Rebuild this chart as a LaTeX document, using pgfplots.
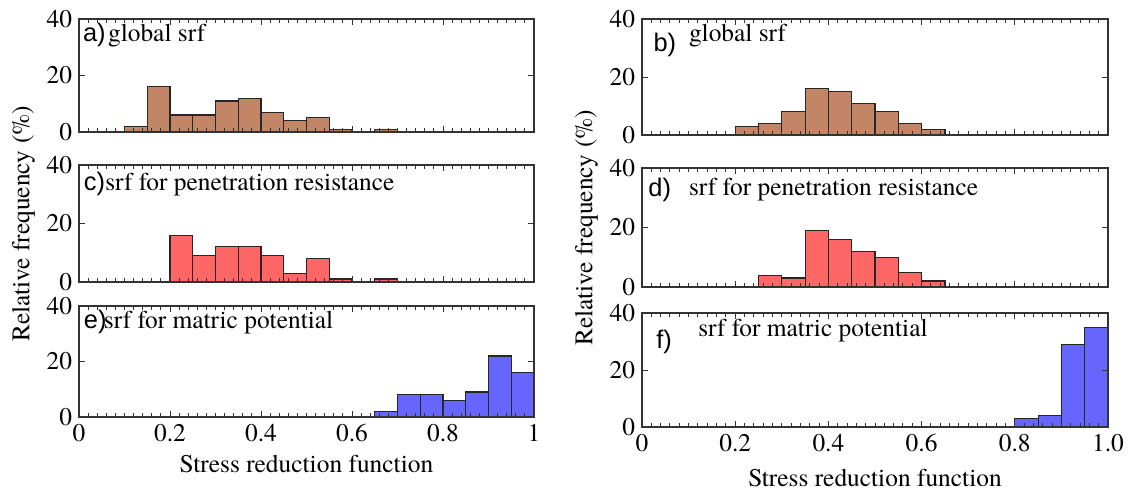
\documentclass[border=0pt]{standalone}
\usepackage{fontspec}
\setmainfont{texgyretermes}[Extension=.otf, UprightFont=*-regular,
  BoldFont=*-bold, ItalicFont=*-italic, BoldItalicFont=*-bolditalic]
\setsansfont{Liberation Sans}
\usepackage{pgfplots}
\pgfplotsset{compat=1.18}

\definecolor{brn}{RGB}{194,133,102}
\definecolor{rd}{RGB}{255,102,102}
\definecolor{bl}{RGB}{102,102,255}
\newcommand{\fs}{\fontsize{12.75}{15}\selectfont}

\pgfplotsset{
  panel/.style={
    scale only axis, anchor=north west,
    xmin=0, xmax=1, ymin=0, ymax=40,
    xtick={0,0.2,0.4,0.6,0.8,1}, ytick={0,20,40},
    yticklabels={0,20,40}, xticklabels={},
    minor x tick num=9,
    tick align=inside,
    major tick length=3bp, minor tick length=1.8bp,
    axis line style={black!80, line width=0.6pt},
    every tick/.style={black!80, line width=0.5pt},
    tick label style={font=\fs},
    label style={font=\fs},
    axis on top,
  },
  bars/.style={ybar interval, fill=#1, draw=black!85, line width=0.6pt},
}
\newcommand{\tag}[4]{%
  \node[anchor=base west, inner sep=0pt, font=\fs\sffamily] at (rel axis cs:#1) {#2};
  \node[anchor=base west, inner sep=0pt, font=\fs] at (rel axis cs:#3) {#4};}

\begin{document}
\begin{tikzpicture}
\useasboundingbox (0,0) rectangle (567.5bp,-247.5bp);

% left column
\begin{axis}[panel, at={(39.5bp,-9.5bp)}, width=227.5bp, height=56.5bp]
\addplot[bars=brn] coordinates {
  (0.10,2) (0.15,16) (0.20,6) (0.25,6) (0.30,11) (0.35,12) (0.40,7)
  (0.45,4) (0.50,5) (0.55,1) (0.60,0) (0.65,1) (0.70,0)};
\tag{0.008,0.80}{a)}{0.063,0.80}{global srf}
\end{axis}

\begin{axis}[panel, at={(39.5bp,-82.5bp)}, width=227.5bp, height=58.5bp,
  ylabel={Relative frequency (\%)}, ylabel style={yshift=-1bp}]
\addplot[bars=rd] coordinates {
  (0.20,16) (0.25,9) (0.30,12) (0.35,12) (0.40,9) (0.45,3) (0.50,8)
  (0.55,1) (0.60,0) (0.65,1) (0.70,0)};
\tag{0.01,0.78}{c)}{0.057,0.78}{srf for penetration resistance}
\end{axis}

\begin{axis}[panel, at={(39.5bp,-153bp)}, width=227.5bp, height=55.5bp,
  xticklabels={0,0.2,0.4,0.6,0.8,1},
  xlabel={Stress reduction function}]
\addplot[bars=bl] coordinates {
  (0.65,2) (0.70,8) (0.75,8) (0.80,6) (0.85,9) (0.90,22) (0.95,16) (1.00,0)};
\tag{0.01,0.80}{e)}{0.054,0.80}{srf for matric potential}
\end{axis}

% right column
\begin{axis}[panel, at={(321bp,-9.5bp)}, width=233bp, height=58bp]
\addplot[bars=brn] coordinates {
  (0.20,3) (0.25,4) (0.30,8) (0.35,16) (0.40,15) (0.45,11) (0.50,8)
  (0.55,4) (0.60,2) (0.65,0)};
\tag{0.024,0.72}{b)}{0.10,0.81}{global srf}
\end{axis}

\begin{axis}[panel, at={(321bp,-84bp)}, width=233bp, height=59.5bp,
  ylabel={Relative frequency (\%)}, ylabel style={yshift=-1bp}]
\addplot[bars=rd] coordinates {
  (0.25,4) (0.30,3) (0.35,19) (0.40,16) (0.45,12) (0.50,10) (0.55,5)
  (0.60,2) (0.65,0)};
\tag{0.013,0.76}{d)}{0.10,0.77}{srf for penetration resistance}
\end{axis}

\begin{axis}[panel, at={(321bp,-156.5bp)}, width=233bp, height=57bp,
  xticklabels={0,0.2,0.4,0.6,0.8,1.0},
  xlabel={Stress reduction function}, xlabel style={yshift=-2bp}]
\addplot[bars=bl] coordinates {
  (0.80,3) (0.85,4) (0.90,29) (0.95,35) (1.00,0)};
\tag{0.03,0.69}{f)}{0.12,0.79}{srf for matric potential}
\end{axis}
\end{tikzpicture}
\end{document}
